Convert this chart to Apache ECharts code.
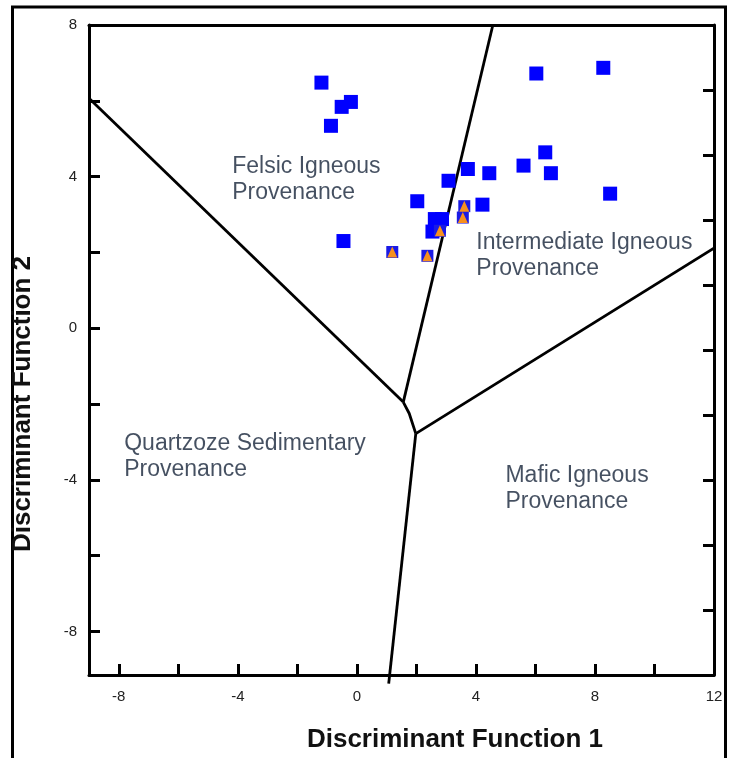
<!DOCTYPE html>
<html><head><meta charset="utf-8">
<script src="https://cdn.jsdelivr.net/npm/echarts@6/dist/echarts.min.js"></script>
<style>html,body{margin:0;padding:0;background:#fff}#c{width:732px;height:758px}</style>
</head><body><div id="c"></div>
<script>
// ---- axis ticks / labels ----
const xTickValues = [-8, -6, -4, -2, 0, 2, 4, 6, 8, 10, 12];
const xLabelValues = [-8, -4, 0, 4, 8, 12];
const yTickValues = [-8, -6, -4, -2, 0, 2, 4, 6, 8];
const yLabelValues = [-8, -4, 0, 4, 8];

// ---- samples (blue squares) ----
const samplesX = [-1.19, -0.20, -0.51, -0.87, -0.45, 6.03, 8.28, 6.33, 5.60, 6.52, 4.45, 3.73, 3.08, 8.51, 2.03, 4.22, 2.62, 2.86, 2.76, 2.54];
const samplesY = [6.48, 5.97, 5.84, 5.34, 2.30, 6.72, 6.87, 4.64, 4.29, 4.09, 4.09, 4.20, 3.89, 3.55, 3.35, 3.26, 2.88, 2.88, 2.69, 2.55];

// ---- marked samples (orange triangles) ----
const markedX = [3.61, 3.56, 2.79, 1.19, 2.37];
const markedY = [3.22, 2.92, 2.57, 2.01, 1.91];

// ---- discriminant field boundaries ----
const boundaryFelsicQuartz = [[-9, 6.07], [1.56, -1.95]];
const boundaryFelsicIntermediate = [[4.57, 8], [1.56, -1.95]];
const boundaryJunction = [[1.56, -1.95], [1.76, -2.25], [1.98, -2.78]];
const boundaryIntermediateMafic = [[1.98, -2.78], [12.18, 2.2]];
const boundaryQuartzMafic = [[1.98, -2.78], [1.07, -9.38]];

// ---- field names ----
const regionNames = ['Felsic Igneous\nProvenance', 'Intermediate Igneous\nProvenance', 'Quartzoze Sedimentary\nProvenance', 'Mafic Igneous\nProvenance'];
const regionAnchorX = [-4.17, 4.03, -7.80, 5.01];
const regionAnchorY = [3.91, 1.90, -3.41, -4.25];

const FONT = '"Liberation Sans", Arial, sans-serif';
const chart = echarts.init(document.getElementById('c'));

const pts = (xs, ys) => xs.map((x, i) => [x, ys[i]]);
const lineSeries = (data) => ({
  type: 'line', data, xAxisIndex: 0, yAxisIndex: 0, symbol: 'none', clip: false, silent: true,
  lineStyle: { color: '#000', width: 2.8 }, z: 3, animation: false
});

chart.setOption({
  animation: false,
  grid: { left: 89, right: 18, top: 25, bottom: 83, containLabel: false },
  xAxis: [{
    type: 'value', min: -9, max: 12, position: 'bottom',
    axisLine: { show: true, onZero: false, lineStyle: { color: '#000', width: 3 } },
    axisTick: { show: true, inside: true, length: 11, customValues: xTickValues, lineStyle: { color: '#000', width: 3 } },
    axisLabel: { show: true, customValues: xLabelValues, margin: 14, color: '#222', fontSize: 15, fontFamily: FONT },
    splitLine: { show: false }
  }, {
    type: 'value', min: -9, max: 12, position: 'top',
    axisLine: { show: true, onZero: false, lineStyle: { color: '#000', width: 3 } },
    axisTick: { show: false }, axisLabel: { show: false }, splitLine: { show: false }
  }],
  yAxis: [{
    type: 'value', min: -9.15, max: 8, position: 'left',
    axisLine: { show: true, onZero: false, lineStyle: { color: '#000', width: 3 } },
    axisTick: { show: true, inside: true, length: 11, customValues: yTickValues, lineStyle: { color: '#000', width: 3 } },
    axisLabel: { show: true, customValues: yLabelValues, margin: 12, color: '#222', fontSize: 15, fontFamily: FONT },
    splitLine: { show: false }
  }, {
    type: 'value', min: 0, max: 10, interval: 1, position: 'right',
    axisLine: { show: true, onZero: false, lineStyle: { color: '#000', width: 3 } },
    axisTick: { show: true, inside: true, length: 11, lineStyle: { color: '#000', width: 3 } },
    axisLabel: { show: false }, splitLine: { show: false }
  }],
  graphic: [
    { type: 'rect', shape: { x: 12.5, y: 7, width: 713, height: 800 }, style: { fill: 'none', stroke: '#000', lineWidth: 3 }, z: 100 },
    { type: 'text', x: 23, y: 404, rotation: Math.PI / 2, style: { text: 'Discriminant Function 2', font: 'bold 26px ' + FONT, fill: '#111', align: 'center', verticalAlign: 'middle' }, z: 100 },
    { type: 'text', x: 455, y: 740, style: { text: 'Discriminant Function 1', font: 'bold 26px ' + FONT, fill: '#111', align: 'center', verticalAlign: 'middle' }, z: 100 }
  ],
  series: [
    lineSeries(boundaryFelsicQuartz),
    lineSeries(boundaryFelsicIntermediate),
    lineSeries(boundaryJunction),
    lineSeries(boundaryIntermediateMafic),
    lineSeries(boundaryQuartzMafic),
    {
      type: 'scatter', data: pts(samplesX, samplesY), symbol: 'rect', symbolSize: 14,
      itemStyle: { color: '#0000ff', opacity: 1 }, z: 5
    },
    {
      type: 'scatter', data: pts(markedX, markedY), symbol: 'rect', symbolSize: 12,
      itemStyle: { color: '#1a1ae6', opacity: 1 }, z: 6
    },
    {
      type: 'scatter', data: pts(markedX, markedY), symbol: 'triangle', symbolSize: [10, 11],
      itemStyle: { color: '#f7901e', opacity: 1 }, z: 7
    },
    {
      type: 'scatter', silent: true, symbol: 'circle', symbolSize: 1,
      itemStyle: { color: 'rgba(0,0,0,0)' },
      data: regionNames.map((n, i) => ({ value: [regionAnchorX[i], regionAnchorY[i]], label: { formatter: n } })),
      label: { show: true, position: [0, 0], align: 'left', verticalAlign: 'middle', color: '#172439', fontSize: 23, lineHeight: 26, fontFamily: FONT },
      z: 8
    }
  ]
});
</script></body></html>
